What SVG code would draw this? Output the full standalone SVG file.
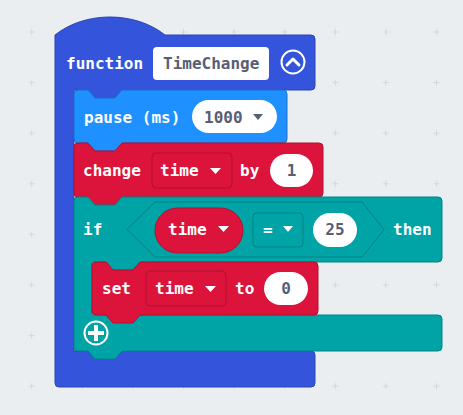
<svg xmlns="http://www.w3.org/2000/svg" width="463" height="415" viewBox="0 0 463 415">
<style>
.t{font-family:"DejaVu Sans Mono","Liberation Mono",monospace;font-size:16px;font-weight:bold;fill:#ffffff}
.v{font-family:"DejaVu Sans Mono","Liberation Mono",monospace;font-size:16px;font-weight:bold;fill:#575E75}
.fn{fill:#3455DB;stroke:#2A44AF;stroke-width:1}
.pz{fill:#1E90FF;stroke:#1873CC;stroke-width:1}
.red{fill:#DC143C;stroke:#B0102F;stroke-width:1}
.teal{fill:#00A4A6;stroke:#008385;stroke-width:1}
.wf{fill:#ffffff}
.dd-red{fill:#DC143C;stroke:#B0102F;stroke-width:1}
.dd-teal{fill:#00A4A6;stroke:#008385;stroke-width:1}
.tri-w{fill:#ffffff}
.tri-g{fill:#575E75}
</style>
<defs>
<pattern id="grid" patternUnits="userSpaceOnUse" x="6.4" y="6.7" width="50.6" height="50.6">
<path d="M22.3,25.3h6M25.3,22.3v6" stroke="#D2D7DB" stroke-width="1" fill="none"/>
</pattern>
</defs>
<rect width="463" height="415" fill="#EAEEF0"/>
<rect width="463" height="415" fill="url(#grid)"/>

<g id="function-block">
<path class="fn" d="M55,35 c30,-24 80,-24 110,0 H311 q4,0 4,4 V86 q0,4 -4,4 H122 l-7,8 H95 l-7,-8 H74 V351 H311 q4,0 4,4 V383 q0,4 -4,4 H59 q-4,0 -4,-4 Z"/>
<text class="t" x="66" y="69">function</text>
<rect class="wf" x="153" y="47" width="116" height="33" rx="4"/>
<text class="v" x="163" y="69">TimeChange</text>
<circle cx="293" cy="62" r="11.5" fill="none" stroke="#ffffff" stroke-width="2"/>
<path d="M287,65 L293,59 L299,65" fill="none" stroke="#ffffff" stroke-width="3" stroke-linecap="round" stroke-linejoin="round"/>
</g>

<g id="pause-block">
<path class="pz" d="M74,94 q0,-4 4,-4 H88 l7,8 H115 l7,-8 H283 q4,0 4,4 V139 q0,4 -4,4 H122 l-7,8 H95 l-7,-8 H78 q-4,0 -4,-4 Z"/>
<text class="t" x="84" y="123">pause (ms)</text>
<rect class="wf" x="192" y="100" width="85" height="33" rx="16.5"/>
<text class="v" x="204" y="123">1000</text>
<path class="tri-g" d="M253,114 h10 l-5,6 Z"/>
</g>

<g id="change-block">
<path class="red" d="M74,147 q0,-4 4,-4 H88 l7,8 H115 l7,-8 H319 q4,0 4,4 V193 q0,4 -4,4 H122 l-7,8 H95 l-7,-8 H78 q-4,0 -4,-4 Z"/>
<text class="t" x="83" y="176">change</text>
<rect class="dd-red" x="152" y="153" width="80" height="35" rx="4"/>
<text class="t" x="160" y="176">time</text>
<path class="tri-w" d="M210,168 h11 l-5.5,6 Z"/>
<text class="t" x="240" y="176">by</text>
<rect class="wf" x="270" y="154" width="43" height="33" rx="16.5"/>
<text class="v" x="291.5" y="176" text-anchor="middle">1</text>
</g>

<g id="if-block">
<path class="teal" d="M74,201 q0,-4 4,-4 H88 l7,8 H115 l7,-8 H438 q4,0 4,4 V258 q0,4 -4,4 H140 l-7,8 H113 l-7,-8 H92 V315 H438 q4,0 4,4 V347 q0,4 -4,4 H122 l-7,8 H95 l-7,-8 H78 q-4,0 -4,-4 Z"/>
<text class="t" x="83" y="235">if</text>
<text class="t" x="393" y="235">then</text>
<circle cx="96" cy="333" r="11.5" fill="none" stroke="#ffffff" stroke-width="2"/>
<path d="M88,333 h16 M96,325 v16" stroke="#ffffff" stroke-width="4"/>
</g>

<g id="compare-block">
<path class="teal" d="M127,229.5 L155,202 H362 L384,229.5 L362,257 H155 Z"/>
<rect class="dd-teal" x="253" y="213" width="50" height="34" rx="4"/>
<text class="t" x="263" y="235">=</text>
<path class="tri-w" d="M283,226 h10 l-5,6 Z"/>
<rect class="wf" x="313" y="213" width="44" height="34" rx="17"/>
<text class="v" x="335" y="235" text-anchor="middle">25</text>
</g>

<g id="time-reporter">
<rect class="red" x="155" y="208" width="88" height="45" rx="22.5"/>
<text class="t" x="168" y="235">time</text>
<path class="tri-w" d="M218,226 h11 l-5.5,6 Z"/>
</g>

<g id="set-block">
<path class="red" d="M92,266 q0,-4 4,-4 H106 l7,8 H133 l7,-8 H314 q4,0 4,4 V311 q0,4 -4,4 H140 l-7,8 H113 l-7,-8 H96 q-4,0 -4,-4 Z"/>
<text class="t" x="102" y="294">set</text>
<rect class="dd-red" x="146" y="271" width="80" height="35" rx="4"/>
<text class="t" x="155" y="294">time</text>
<path class="tri-w" d="M205,286 h11 l-5.5,6 Z"/>
<text class="t" x="235" y="294">to</text>
<rect class="wf" x="264" y="272" width="44" height="33" rx="16.5"/>
<text class="v" x="286" y="294" text-anchor="middle">0</text>
</g>

<g id="connectors"></g>
</svg>
